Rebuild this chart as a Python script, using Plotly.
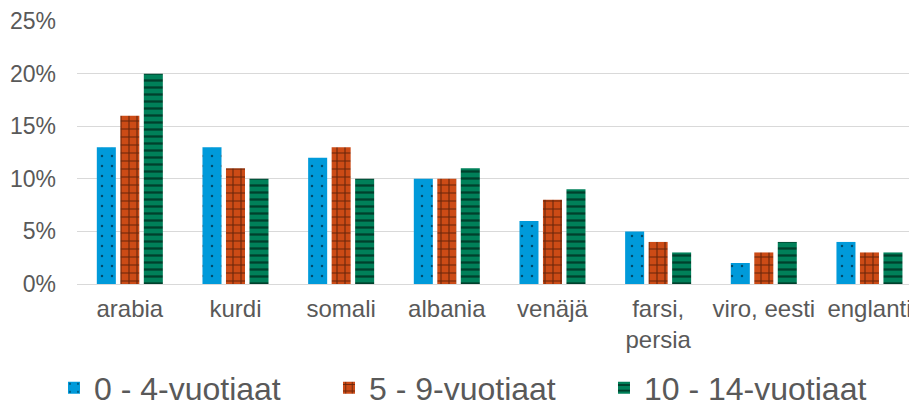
import plotly.graph_objects as go

categories = ["arabia", "kurdi", "somali", "albania", "venäjä", "farsi,<br>persia", "viro, eesti", "englanti"]
series_names = ["0 - 4-vuotiaat", "5 - 9-vuotiaat", "10 - 14-vuotiaat"]
age_0_4 = [0.13, 0.13, 0.12, 0.10, 0.06, 0.05, 0.02, 0.04]
age_5_9 = [0.16, 0.11, 0.13, 0.10, 0.08, 0.04, 0.03, 0.03]
age_10_14 = [0.20, 0.10, 0.10, 0.11, 0.09, 0.03, 0.04, 0.03]
tick_vals = [0, 0.05, 0.10, 0.15, 0.20, 0.25]
tick_text = ["0%", "5%", "10%", "15%", "20%", "25%"]

colors = ["#009ADA", "#CC4B16", "#008059"]
patterns = [
    dict(shape=".", fgcolor="#000000", bgcolor="#009ADA", size=10, solidity=0.05, fillmode="overlay"),
    dict(shape="+", fgcolor="#000000", bgcolor="#CC4B16", size=8, solidity=0.25, fillmode="overlay"),
    dict(shape="-", fgcolor="#000000", bgcolor="#008059", size=7, solidity=0.33, fillmode="overlay"),
]

fig = go.Figure()
for name, vals, c, p in zip(series_names, [age_0_4, age_5_9, age_10_14], colors, patterns):
    fig.add_trace(go.Bar(
        x=categories, y=vals, name=name,
        marker=dict(color=c, pattern=p, line=dict(width=0)),
    ))

fig.update_layout(
    width=909, height=400,
    margin=dict(l=69, r=0, t=13, b=124),
    paper_bgcolor="white", plot_bgcolor="white",
    barmode="group", bargap=0.333, bargroupgap=0.19,
    font=dict(family="Arial, Liberation Sans, sans-serif", color="#595959", size=24),
    xaxis=dict(showgrid=False, showline=False, ticks="", automargin=False,
               range=[-0.5, 7.45], tickfont=dict(size=24, color="#595959"),
               ticklabelstandoff=8),
    yaxis=dict(range=[0, 0.2501], tickvals=tick_vals, ticktext=tick_text, automargin=False,
               showgrid=True, gridcolor="#D9D9D9", gridwidth=1, zeroline=True,
               zerolinecolor="#D9D9D9", zerolinewidth=1, ticklabeloverflow="allow",
               tickfont=dict(size=23, color="#595959"), ticks="", ticklabelstandoff=20),
    legend=dict(orientation="h", xref="container", yref="container",
                x=0.0506, xanchor="left", y=0.05, yanchor="middle",
                font=dict(size=32, color="#595959"), itemwidth=30,
                entrywidth=230, entrywidthmode="pixels",
                traceorder="normal"),
)
fig.write_html("out.html")
